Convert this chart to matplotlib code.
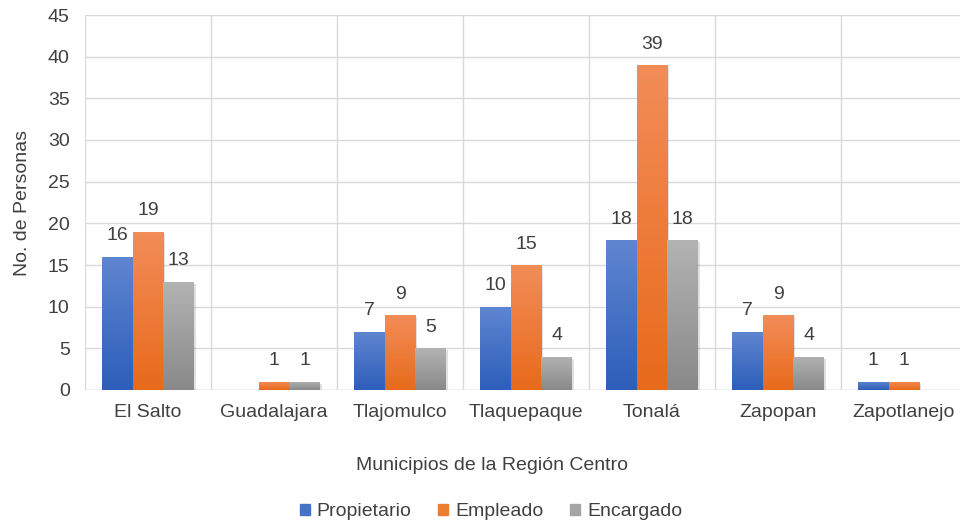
import numpy as np
import matplotlib
matplotlib.use("Agg")
import matplotlib.pyplot as plt
from matplotlib.colors import LinearSegmentedColormap

plt.rcParams['font.family'] = ['Liberation Sans', 'DejaVu Sans']

municipios = ['El Salto', 'Guadalajara', 'Tlajomulco', 'Tlaquepaque',
              'Tonalá', 'Zapopan', 'Zapotlanejo']
propietario = [16, 0, 7, 10, 18, 7, 1]
empleado = [19, 1, 9, 15, 39, 9, 1]
encargado = [13, 1, 5, 4, 18, 4, 0]

series = ['Propietario', 'Empleado', 'Encargado']
# (top colour, bottom colour) of each gradient
grads = [('#5F86D0', '#2D5EBA'), ('#F28D58', '#E86A1B'), ('#B3B3B3', '#898989')]
solid = ['#4472C4', '#ED7D31', '#A5A5A5']
text_color = '#404040'
grid_color = '#D9D9D9'
fs = 14

fig = plt.figure(figsize=(9.6, 5.25), dpi=100)
ax = fig.add_axes([85 / 960, 1 - 390 / 525, 882 / 960, 375 / 525])

x = np.arange(len(municipios))
w = 0.244
values = [propietario, empleado, encargado]

for i, (name, vals) in enumerate(zip(series, values)):
    cmap = LinearSegmentedColormap.from_list(name, [grads[i][1], grads[i][0]])
    offs = (i - 1) * w
    bars = ax.bar(x + offs, vals, w, color='none', edgecolor='none', label=name, zorder=3)
    for b, v in zip(bars, vals):
        if v == 0:
            continue
        bx, by = b.get_x(), b.get_y()
        bw, bh = b.get_width(), b.get_height()
        # soft shadow
        ax.bar(bx + bw / 2 + 0.012, v, bw, bottom=-0.25, color='#000000', alpha=0.12,
               edgecolor='none', zorder=2)
        grad = np.linspace(0, 1, 256).reshape(-1, 1)
        im = ax.imshow(grad, cmap=cmap, origin='lower', aspect='auto',
                       extent=[bx, bx + bw, by, by + bh], zorder=3)
        im.set_clip_path(b)
        ax.text(bx + bw / 2, v + 2.5, str(v), ha='center', va='center',
                fontsize=fs, color=text_color, zorder=4)

ax.set_xlim(-0.5, len(municipios) - 0.5)
ax.set_ylim(0, 45)
ax.set_yticks(np.arange(0, 46, 5))
ax.set_xticks(x)
ax.set_xticklabels(municipios)
ax.set_xticks(np.arange(-0.5, len(municipios), 1), minor=True)
ax.grid(axis='y', color=grid_color, linewidth=1, zorder=0)
ax.grid(axis='x', which='minor', color=grid_color, linewidth=1, zorder=0)
ax.grid(axis='x', which='major', visible=False)
ax.tick_params(axis='both', which='both', length=0, labelsize=fs, colors=text_color)
ax.tick_params(axis='x', pad=10)
ax.tick_params(axis='y', pad=11)
for s in ax.spines.values():
    s.set_visible(False)
ax.axhline(0, color=grid_color, linewidth=1, zorder=1)

ax.set_ylabel('No. de Personas', fontsize=fs, color=text_color, labelpad=12)
fig.text(492 / 960, 1 - 465 / 525, 'Municipios de la Región Centro', ha='center',
         va='center', fontsize=fs, color=text_color)

handles = [plt.Rectangle((0, 0), 1, 1, color=c) for c in solid]
fig.legend(handles, series, loc='center', bbox_to_anchor=(491 / 960, 1 - 512 / 525),
           ncol=3, frameon=False, fontsize=fs, labelcolor=text_color,
           handlelength=0.5, handleheight=0.5, handletextpad=0.35, columnspacing=1.4)

fig.savefig('out.png', dpi=100)
